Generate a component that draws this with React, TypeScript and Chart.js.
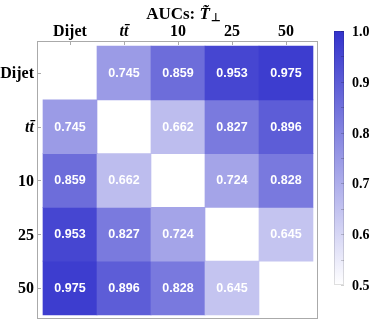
import React, { useEffect, useRef } from 'react';
import { Chart, registerables } from 'chart.js';
Chart.register(...registerables);

// ---------- data ----------
const categories = ['Dijet', 'tt\u0304', '10', '25', '50'];
const rowDijet = [null, 0.745, 0.859, 0.953, 0.975];
const rowTT = [0.745, null, 0.662, 0.827, 0.896];
const row10 = [0.859, 0.662, null, 0.724, 0.828];
const row25 = [0.953, 0.827, 0.724, null, 0.645];
const row50 = [0.975, 0.896, 0.828, 0.645, null];
const rows: (number | null)[][] = [rowDijet, rowTT, row10, row25, row50];
const colorTicks = [0.5, 0.6, 0.7, 0.8, 0.9, 1.0];
const colorMinorTicks = [0.55, 0.65, 0.75, 0.85, 0.95];
const colorMin = 0.5;
const colorMax = 1.0;
const titleMain = 'AUCs: ';
const titleSym = 'T\u0303';
const titleSub = '\u22A5';

// ---------- styling ----------
const LOW = [255, 255, 255];
const HIGH = [51, 51, 204];
function colorFor(v: number): string {
  let t = (v - colorMin) / (colorMax - colorMin);
  t = Math.max(0, Math.min(1, t));
  const c = LOW.map((l, i) => Math.round(l + t * (HIGH[i] - l)));
  return `rgb(${c[0]},${c[1]},${c[2]})`;
}
const SERIF = '"Liberation Serif", "Times New Roman", serif';
const SANS = '"Liberation Sans", Arial, sans-serif';
const W = 374;
const H = 322;

function labelFont(i: number) {
  return `${i === 1 ? 'italic ' : ''}bold 16px ${SERIF}`;
}

export default function App() {
  const mainRef = useRef<HTMLCanvasElement>(null);
  const barRef = useRef<HTMLCanvasElement>(null);

  useEffect(() => {
    const datasets = rows.map((row, r) => ({
      label: categories[r],
      data: row
        .map((v, c) => (v == null ? null : { x: c, y: [r - 0.5, r + 0.5], v }))
        .filter((d) => d !== null),
      backgroundColor: (ctx: any) => colorFor(ctx.raw ? ctx.raw.v : colorMin),
      borderWidth: 0,
      grouped: false,
      barPercentage: 1,
      categoryPercentage: 1,
    }));

    const overlay = {
      id: 'overlay',
      afterDatasetsDraw(chart: any) {
        const { ctx, scales } = chart;
        const xs = scales.x;
        const ys = scales.y;
        ctx.save();
        ctx.fillStyle = '#ffffff';
        ctx.font = `bold 12.5px ${SANS}`;
        ctx.textAlign = 'center';
        ctx.textBaseline = 'middle';
        rows.forEach((row, r) => {
          row.forEach((v, c) => {
            if (v == null) return;
            ctx.fillText(v.toFixed(3), xs.getPixelForValue(c), ys.getPixelForValue(r) + 0.5);
          });
        });
        ctx.restore();
      },
      afterDraw(chart: any) {
        const { ctx, chartArea, scales } = chart;
        const { left, top, right, bottom } = chartArea;
        ctx.save();
        ctx.strokeStyle = '#aaaaaa';
        ctx.lineWidth = 1;
        ctx.strokeRect(left + 0.5, top + 0.5, right - left - 1, bottom - top - 1);
        ctx.beginPath();
        categories.forEach((_, i) => {
          const x = Math.round(scales.x.getPixelForValue(i)) + 0.5;
          ctx.moveTo(x, top);
          ctx.lineTo(x, top + 4);
          const y = Math.round(scales.y.getPixelForValue(i)) + 0.5;
          ctx.moveTo(left, y);
          ctx.lineTo(left + 4, y);
        });
        ctx.stroke();

        // axis labels
        ctx.fillStyle = '#000';
        ctx.textBaseline = 'alphabetic';
        categories.forEach((lab, i) => {
          ctx.font = labelFont(i);
          ctx.textAlign = 'center';
          ctx.fillText(lab, scales.x.getPixelForValue(i), top - 5);
          ctx.textAlign = 'right';
          ctx.fillText(lab, left - 3, scales.y.getPixelForValue(i) + 5.5);
        });

        // title
        ctx.textAlign = 'left';
        const fMain = `bold 17px ${SERIF}`;
        const fSym = `italic bold 17px ${SERIF}`;
        const fSub = `bold 11px ${SERIF}`;
        ctx.font = fMain;
        const w1 = ctx.measureText(titleMain).width;
        ctx.font = fSym;
        const w2 = ctx.measureText('T').width;
        ctx.font = fSub;
        const w3 = ctx.measureText(titleSub).width;
        const total = w1 + w2 + 1 + w3;
        let x = (left + right) / 2 - total / 2 + 6;
        const base = 19;
        ctx.font = fMain;
        ctx.fillText(titleMain, x, base);
        x += w1;
        ctx.font = fSym;
        ctx.fillText(titleSym, x, base);
        x += w2 + 1;
        ctx.font = fSub;
        ctx.fillText(titleSub, x, base + 2);
        ctx.restore();
      },
    };

    const main = new Chart(mainRef.current!, {
      type: 'bar',
      data: { datasets: datasets as any },
      options: {
        animation: false,
        responsive: false,
        layout: { padding: { left: 37, top: 41, right: 56, bottom: 3 } },
        plugins: { legend: { display: false }, tooltip: { enabled: false }, title: { display: false } },
        scales: {
          x: { type: 'linear', display: false, offset: false, min: -0.611, max: 4.593 },
          y: { type: 'linear', display: false, reverse: true, min: -0.595, max: 4.577 },
        },
      },
      plugins: [overlay],
    });

    const barOverlay = {
      id: 'barOverlay',
      afterDraw(chart: any) {
        const { ctx, chartArea, scales } = chart;
        const { left, top, right, bottom } = chartArea;
        ctx.save();
        ctx.strokeStyle = 'rgba(0,0,0,0.12)';
        ctx.lineWidth = 1;
        ctx.strokeRect(left + 0.5, top + 0.5, right - left - 1, bottom - top - 1);
        ctx.strokeStyle = 'rgba(0,0,0,0.18)';
        ctx.beginPath();
        [...colorTicks, ...colorMinorTicks].forEach((v) => {
          const y = Math.round(scales.y.getPixelForValue(v)) + 0.5;
          ctx.moveTo(right - 3, y);
          ctx.lineTo(right, y);
        });
        ctx.stroke();
        ctx.fillStyle = '#000';
        ctx.font = `bold 14px ${SERIF}`;
        ctx.textAlign = 'left';
        ctx.textBaseline = 'alphabetic';
        colorTicks.forEach((v) => {
          ctx.fillText(v.toFixed(1), right + 8, scales.y.getPixelForValue(v) + 5);
        });
        ctx.restore();
      },
    };

    const bar = new Chart(barRef.current!, {
      type: 'bar',
      data: {
        labels: ['scale'],
        datasets: [
          {
            data: [[colorMin, colorMax]] as any,
            backgroundColor: (ctx: any) => {
              const ca = ctx.chart.chartArea;
              if (!ca) return colorFor(colorMax);
              const g = ctx.chart.ctx.createLinearGradient(0, ca.bottom, 0, ca.top);
              g.addColorStop(0, colorFor(colorMin));
              g.addColorStop(1, colorFor(colorMax));
              return g;
            },
            borderWidth: 0,
            barPercentage: 1,
            categoryPercentage: 1,
          },
        ],
      },
      options: {
        animation: false,
        responsive: false,
        layout: { padding: { left: 14, top: 31, right: 30, bottom: 37 } },
        plugins: { legend: { display: false }, tooltip: { enabled: false } },
        scales: {
          x: { type: 'category', display: false },
          y: { type: 'linear', display: false, min: colorMin, max: colorMax },
        },
      },
      plugins: [barOverlay],
    });

    return () => {
      main.destroy();
      bar.destroy();
    };
  }, []);

  return (
    <div style={{ position: 'absolute', left: 0, top: 0, width: W, height: H, background: '#fff' }}>
      <canvas ref={mainRef} width={W} height={H} style={{ position: 'absolute', left: 0, top: 0 }} />
      <canvas ref={barRef} width={54} height={H} style={{ position: 'absolute', left: 320, top: 0 }} />
    </div>
  );
}
